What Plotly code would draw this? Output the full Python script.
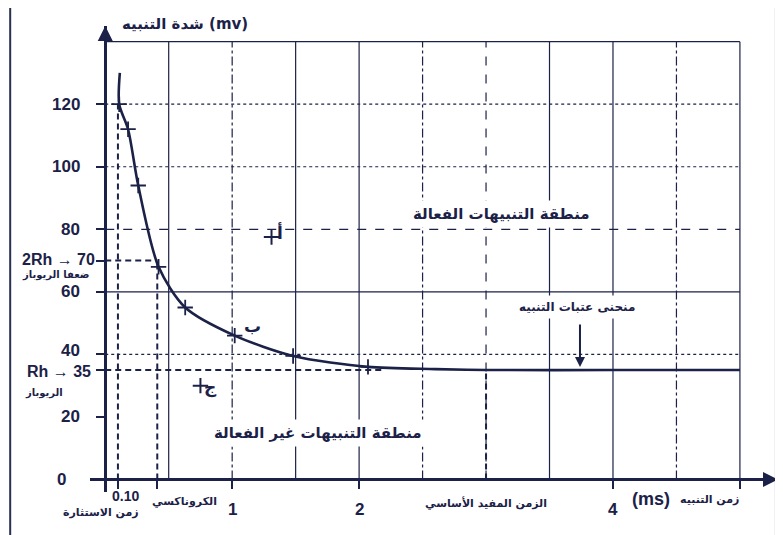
import plotly.graph_objects as go

INK = "#1b2147"
FONT = "Liberation Sans, DejaVu Sans, sans-serif"
AFONT = "DejaVu Sans, sans-serif"

# threshold curve (strength-duration)
curve_x = [0.115, 0.11, 0.18, 0.26, 0.42, 0.63, 1.02, 1.48, 2.07, 2.6, 3.0, 4.0, 5.0]
curve_y = [130, 120, 112, 94, 68, 55, 46, 39.5, 36, 35.3, 35, 35, 35]
# "+" marks on the curve
mark_x = [0.11, 0.18, 0.26, 0.42, 0.63, 1.02, 1.48, 2.07]
mark_y = [120, 112, 94, 68, 55, 46, 39.5, 36]
# points A and C
pt_x = [1.31, 0.75]
pt_y = [77.5, 30]
pt_letters = ["أ", "ج"]
pt_letter_x = [1.38, 0.83]
pt_letter_y = [79, 29.5]
b_letter = ("ب", 1.16, 49)

rheobase = 35
two_rh = 70
chronaxie = 0.41
min_time = 0.10
util_time = 3.0

y_ticks = [0, 20, 40, 60, 80, 100, 120]
x_ticks = [1, 2, 4]
grid_x = [0.5, 1.0, 1.5, 2.0, 2.5, 3.0, 3.5, 4.0, 4.5, 5.0]
grid_x_dash = ["solid", "dashdot", "solid", "solid", "dashdot", "dash", "solid", "solid", "dashdot", "solid"]
grid_y = [40, 60, 80, 100, 120, 140]
grid_y_dash = ["dot", "solid", "dash", "dot", "dot", "solid"]

fig = go.Figure()

# grid
shapes = []
for gx, d in zip(grid_x, grid_x_dash):
    shapes.append(dict(type="line", x0=gx, x1=gx, y0=0, y1=140, xref="x", yref="y",
                       line=dict(color=INK, width=1.2, dash=d), layer="below"))
for gy, d in zip(grid_y, grid_y_dash):
    shapes.append(dict(type="line", x0=0, x1=5.0, y0=gy, y1=gy, xref="x", yref="y",
                       line=dict(color=INK, width=1.2, dash=d), layer="below"))
# construction dashed lines
dash = dict(color=INK, width=2, dash="6px,4px")
shapes += [
    dict(type="line", x0=min_time, x1=min_time, y0=0, y1=120, line=dash),
    dict(type="line", x0=chronaxie, x1=chronaxie, y0=0, y1=two_rh, line=dash),
    dict(type="line", x0=0, x1=chronaxie, y0=two_rh, y1=two_rh, line=dash),
    dict(type="line", x0=0, x1=2.2, y0=rheobase, y1=rheobase, line=dash),
    dict(type="line", x0=util_time, x1=util_time, y0=0, y1=rheobase, line=dash),
]
# outer frame
shapes.append(dict(type="rect", xref="paper", yref="paper", x0=-0.116, x1=0.997, y0=-0.105, y1=1.05,
                   line=dict(color="#2a3050", width=2)))

fig.add_trace(go.Scatter(x=curve_x, y=curve_y, mode="lines",
                         line=dict(color=INK, width=2.6, shape="spline", smoothing=0.8),
                         hoverinfo="skip", showlegend=False))
fig.add_trace(go.Scatter(x=mark_x, y=mark_y, mode="markers",
                         marker=dict(symbol="cross-thin", size=11, line=dict(color=INK, width=1.8)),
                         showlegend=False))
fig.add_trace(go.Scatter(x=pt_x, y=pt_y, mode="markers",
                         marker=dict(symbol="cross-thin", size=11, line=dict(color=INK, width=2)),
                         showlegend=False))

ann = []
def txt(x, y, t, size=16, xanchor="center", yanchor="middle", xshift=0, yshift=0,
        family=FONT, bg=None, xref="x", yref="y"):
    d = dict(x=x, y=y, xref=xref, yref=yref, text=t, showarrow=False, xanchor=xanchor,
             yanchor=yanchor, xshift=xshift, yshift=yshift,
             font=dict(family=family, size=size, color=INK))
    if bg:
        d.update(bgcolor=bg, borderpad=4)
    ann.append(d)

# y tick labels
for v in y_ticks:
    txt(0, v, "<b>%d</b>" % v, size=17, xanchor="right", xshift=-23 if v else -37,
        yshift=4 if v == 40 else 0)
txt(0, two_rh, "<b>2Rh → 70</b>", size=16, xanchor="right", xshift=-8, yshift=1)
txt(0, two_rh, "<b>ضعفا الريوباز</b>", size=10, xanchor="right", xshift=-14, yshift=-14, family=AFONT)
txt(0, rheobase, "<b>Rh → 35</b>", size=16, xanchor="right", xshift=-12, yshift=-1)
txt(0, rheobase, "<b>الريوباز</b>", size=10, xanchor="right", xshift=-40, yshift=-23, family=AFONT)

# x tick labels
for v in x_ticks:
    txt(v, 0, "<b>%d</b>" % v, size=17, yanchor="top", yshift=-19)
txt(min_time, 0, "<b>0.10</b>", size=14, yanchor="top", yshift=-7, xshift=8)
txt(min_time, 0, "<b>زمن الاستثارة</b>", size=11, yanchor="top", yshift=-25, xshift=-17, family=AFONT)
txt(chronaxie, 0, "<b>الكروناكسي</b>", size=11, yanchor="top", yshift=-14, xshift=27, family=AFONT)
txt(util_time, 0, "<b>الزمن المفيد الأساسي</b>", size=11, yanchor="top", yshift=-15, family=AFONT)
txt(4.3, 0, "<b>(ms)</b>", size=18, yanchor="top", yshift=-8)
txt(4.76, 0, "<b>زمن التنبيه</b>", size=11, yanchor="top", yshift=-12, family=AFONT)

# axis title
txt(0.63, 145, "<b>شدة التنبيه (mv)</b>", size=15, yshift=2, family=AFONT)

# region labels
txt(3.12, 85, "<b>منطقة التنبيهات الفعالة</b>", size=15, family=AFONT, bg="white")
txt(1.68, 15, "<b>منطقة التنبيهات غير الفعالة</b>", size=15, family=AFONT, bg="white")

# point letters
for lx, ly, t in zip(pt_letter_x, pt_letter_y, pt_letters):
    txt(lx, ly, "<b>%s</b>" % t, size=17, family=AFONT)
txt(b_letter[1], b_letter[2], "<b>%s</b>" % b_letter[0], size=17, family=AFONT)

# threshold curve label with arrow
ann.append(dict(x=3.74, y=36, ax=3.74, ay=50, xref="x", yref="y", axref="x", ayref="y",
                showarrow=True, arrowhead=2, arrowsize=1, arrowwidth=2, arrowcolor=INK, text=""))
txt(3.72, 55, "<b>منحنى عتبات التنبيه</b>", size=12, family=AFONT, bg="white")

# axis arrowheads
ann.append(dict(x=0, y=145, ax=0, ay=15, xref="x", yref="y", showarrow=True, arrowhead=2,
                arrowsize=1.2, arrowwidth=2.5, arrowcolor=INK, text=""))
ann.append(dict(x=5.3, y=0, ax=-15, ay=0, xref="x", yref="y", showarrow=True, arrowhead=2,
                arrowsize=1.2, arrowwidth=2.5, arrowcolor=INK, text=""))

fig.update_layout(
    width=783, height=535,
    margin=dict(l=82, r=13, t=18, b=51, autoexpand=False),
    paper_bgcolor="white", plot_bgcolor="white",
    shapes=shapes, annotations=ann, showlegend=False,
    xaxis=dict(range=[-0.12, 5.3], showgrid=False, zeroline=False, showline=True,
               linecolor=INK, linewidth=2.5, anchor="free", position=4 / 149, automargin=False,
               tickvals=[0.1, chronaxie, 1, 2, 4, 5], ticks="outside", ticklen=8,
               tickwidth=2, tickcolor=INK, showticklabels=False, fixedrange=True),
    yaxis=dict(range=[-4, 145], showgrid=False, zeroline=False, showline=True,
               linecolor=INK, linewidth=3, anchor="free", position=0.12 / 5.42, automargin=False,
               tickvals=[0, 20, 35, 40, 60, 70, 80, 100, 120], ticks="outside", ticklen=8,
               tickwidth=2, tickcolor=INK, showticklabels=False, fixedrange=True),
)

fig.write_html("out.html")
